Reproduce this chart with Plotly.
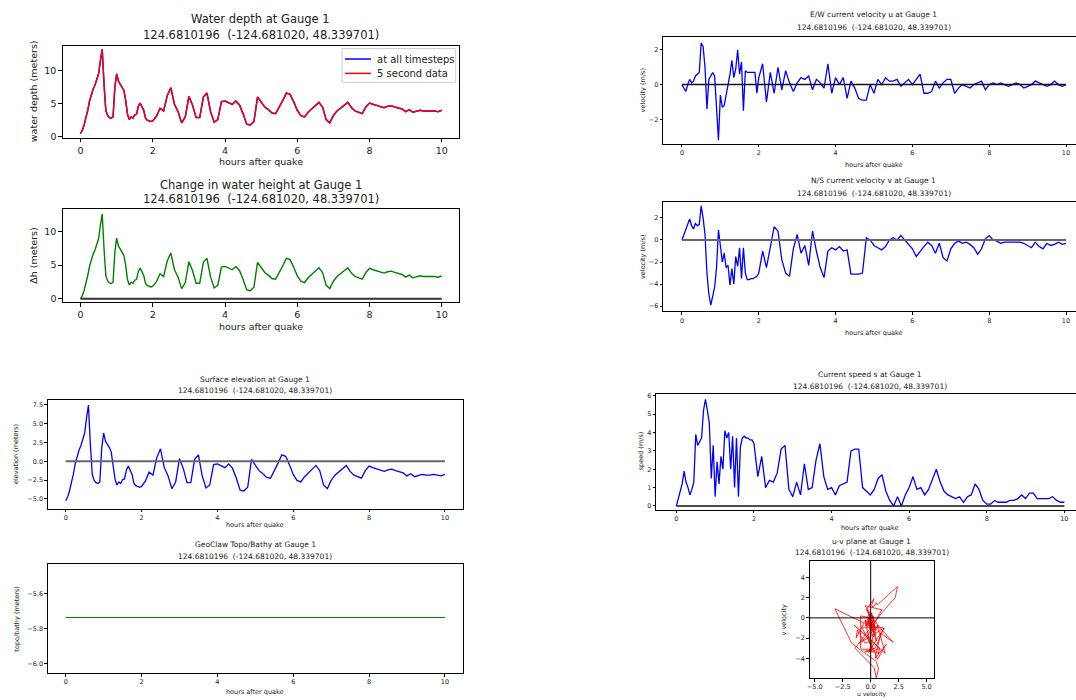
import plotly.graph_objects as go

W, H = 1076, 700

# ---------------- data ----------------
# time grid: 0.05 h steps up to 2 h, then 0.1 h steps up to 10 h
hours = [round(0.05 * i, 2) for i in range(41)] + [round(2 + 0.1 * i, 1) for i in range(1, 81)]

water_depth = [
    0.5, 1.0, 1.8, 2.8, 4.0, 5.4, 6.5, 7.2, 7.8, 8.6, 9.5, 11.5, 13.2, 8.0, 4.0, 3.2, 2.9, 2.8, 3.0, 7.5,
    9.5, 8.4, 8.0, 7.6, 7.0, 5.5, 3.4, 2.6, 3.0, 2.8, 3.3, 3.4, 4.6, 5.1, 4.6, 4.0, 2.8, 2.5, 2.4, 2.3, 2.4,
    3.1, 4.3, 3.9, 6.2, 7.4, 4.9, 3.8, 2.1, 3.0, 6.1,
    4.8, 2.9, 2.9, 6.0, 6.6, 3.8, 2.2, 2.6, 5.3, 5.4,
    5.1, 4.9, 5.4, 4.8, 3.5, 1.9, 1.8, 2.3, 6.0, 5.2,
    4.5, 4.1, 3.6, 3.5, 4.4, 5.5, 6.6, 6.4, 5.3, 4.0,
    3.2, 3.0, 3.7, 4.2, 4.6, 5.2, 4.5, 2.6, 2.1, 3.2,
    3.9, 4.3, 4.8, 5.2, 4.4, 3.9, 3.7, 3.5, 4.5, 5.1,
    4.9, 4.7, 4.5, 4.4, 4.6, 4.7, 4.5, 4.4, 4.2, 3.8,
    4.1, 3.7, 3.8, 4.0, 3.9, 3.9, 4.0, 3.9, 3.8, 4.0,
]

delta_h = [
    0.0, 0.45, 1.25, 2.25, 3.45, 4.85, 5.95, 6.65, 7.25, 8.05, 8.95, 10.95, 12.6, 7.45, 3.45, 2.65, 2.35, 2.25,
    2.45, 6.95, 9.0, 7.85, 7.45, 7.05, 6.45, 4.95, 2.85, 2.05, 2.45, 2.25, 2.75, 2.85, 4.05, 4.55, 4.05, 3.45,
    2.25, 1.95, 1.85, 1.75, 1.85,
    2.5, 3.7, 3.3, 5.6, 6.8, 4.3, 3.2, 1.5, 2.4, 5.5,
    4.2, 2.3, 2.3, 5.4, 6.0, 3.2, 1.6, 2.0, 4.7, 4.8,
    4.5, 4.3, 4.8, 4.2, 2.9, 1.3, 1.2, 1.7, 5.4, 4.6,
    3.9, 3.5, 3.0, 2.9, 3.8, 4.9, 6.0, 5.8, 4.7, 3.4,
    2.6, 2.4, 3.1, 3.6, 4.0, 4.6, 3.9, 2.0, 1.5, 2.6,
    3.3, 3.7, 4.2, 4.6, 3.8, 3.3, 3.1, 2.9, 3.9, 4.5,
    4.3, 4.1, 3.9, 3.8, 4.0, 4.1, 3.9, 3.8, 3.6, 3.2,
    3.5, 3.1, 3.2, 3.4, 3.3, 3.3, 3.4, 3.3, 3.2, 3.4,
]

surface_eta = [
    -5.24, -4.74, -3.94, -2.94, -1.74, -0.34, 0.76, 1.46, 2.06, 2.86, 3.76, 5.76, 7.46, 2.26, -1.74, -2.54,
    -2.84, -2.94, -2.74, 1.76, 3.76, 2.66, 2.26, 1.86, 1.26, -0.24, -2.34, -3.14, -2.74, -2.94, -2.44, -2.34,
    -1.14, -0.64, -1.14, -1.74, -2.94, -3.24, -3.34, -3.44, -3.34,
    -2.64, -1.44, -1.84, 0.46, 1.66, -0.84, -1.94, -3.64, -2.74, 0.36,
    -0.94, -2.84, -2.84, 0.26, 0.86, -1.94, -3.54, -3.14, -0.44, -0.34,
    -0.64, -0.84, -0.34, -0.94, -2.24, -3.84, -3.94, -3.44, 0.26, -0.54,
    -1.24, -1.64, -2.14, -2.24, -1.34, -0.24, 0.86, 0.66, -0.44, -1.74,
    -2.54, -2.74, -2.04, -1.54, -1.14, -0.54, -1.24, -3.14, -3.64, -2.54,
    -1.84, -1.44, -0.94, -0.54, -1.34, -1.84, -2.04, -2.24, -1.24, -0.64,
    -0.84, -1.04, -1.24, -1.34, -1.14, -1.04, -1.24, -1.34, -1.54, -1.94,
    -1.64, -2.04, -1.94, -1.74, -1.84, -1.84, -1.74, -1.84, -1.94, -1.74,
]

topo_bathy_level = -5.737

u_velocity = [
    0.0, -0.2, -0.4, 0.0, 0.3, 0.1, 0.2, 0.5, 0.6, 0.7, 2.4, 2.2, 1.0, -1.4, 0.3, 0.5, 0.7, 0.5, -1.7, -3.2,
    -0.6, -1.3, -1.2, -0.5, 0.0, 0.6, 1.4, 0.4, 0.9, 2.0, 0.6, 1.3, -1.5, 0.8, 0.7, 0.7, 0.7, 0.7, 0.7, -0.5, 0.4,
    1.2, -1.0, 0.7, -0.5, 1.0, -0.3, 0.8, 0.1, -0.4, 0.1,
    0.4, 0.3, 0.5, -0.3, 0.3, 0.1, -0.2, 1.2, -0.5, 0.4,
    0.0, 0.4, -0.8, 0.2, -0.2, -0.8, -0.9, -0.9, 0.0, -0.5,
    0.3, 0.0, 0.4, 0.2, 0.2, 0.3, -0.1, 0.1, 0.3, 0.0,
    0.3, 0.6, -0.5, -0.5, -0.4, 0.2, -0.2, 0.1, 0.3, 0.3,
    -0.5, -0.2, 0.0, -0.1, -0.2, 0.0, 0.1, 0.2, -0.3, 0.0,
    0.1, 0.0, 0.1, 0.0, -0.1, 0.0, 0.1, 0.0, -0.2, -0.1,
    0.0, 0.2, 0.1, 0.0, -0.1, 0.0, 0.2, 0.0, -0.1, 0.0,
]

v_velocity = [
    0.0, 0.5, 0.8, 1.4, 1.9, 1.3, 1.0, 1.5, 1.3, 1.4, 3.1, 2.0, 0.5, -3.0, -4.9, -5.9, -5.0, -4.3, -2.5, 0.9,
    -0.5, -2.0, -1.2, -2.5, -2.3, -4.1, -2.6, -4.0, -1.5, -2.4, -0.7, -3.5, -0.7, -3.0, -3.6, -3.6, -3.5, -3.5,
    -3.4, -3.3, -3.0,
    -1.0, -2.5, -0.8, 1.2, 0.8, -1.8, -3.0, -3.3, -0.8, 0.5,
    -1.2, -0.5, -2.3, 0.8, -1.0, -2.5, -3.4, -1.0, -0.7, -0.9,
    -0.6, -1.0, -0.9, -3.1, -3.1, -3.1, -3.0, 0.2, 0.0, -0.5,
    -0.7, -0.9, -0.6, 0.0, 0.2, 0.0, 0.4, 0.0, -0.3, -0.8,
    -1.5, -1.0, -0.6, -0.2, -0.5, -1.2, -0.3, -1.6, -1.9, -0.8,
    -0.3, -0.1, -0.3, -0.2, -0.4, -0.7, -1.3, -0.8, 0.1, 0.4,
    0.0, -0.1, -0.3, -0.2, -0.2, -0.2, -0.2, -0.2, -0.3, -0.5,
    -0.7, -0.2, -0.6, -0.8, -0.3, -0.5, -0.4, -0.2, -0.4, -0.3,
]

current_speed = [
    0.0, 0.4, 0.7, 1.2, 1.9, 1.3, 1.0, 0.6, 0.9, 1.3, 3.9, 3.3, 3.5, 3.7, 5.2, 5.8, 5.2, 4.5, 1.5, 3.3,
    0.5, 2.4, 1.2, 2.7, 2.0, 4.1, 3.7, 4.0, 2.0, 3.8, 1.0, 3.7, 0.5, 3.2, 3.7, 3.8, 3.7, 3.7, 3.6, 3.6, 3.4,
    1.6, 2.7, 1.0, 1.4, 1.3, 1.8, 3.1, 3.3, 0.9, 0.5,
    1.3, 0.6, 2.3, 0.9, 1.0, 2.5, 3.4, 1.6, 0.9, 1.0,
    0.6, 1.1, 1.2, 1.3, 3.0, 3.1, 3.1, 1.0, 0.8, 0.6,
    0.9, 1.5, 1.7, 0.8, 0.3, 0.0, 0.5, 0.0, 0.6, 1.0,
    1.6, 0.9, 1.0, 0.6, 0.9, 1.5, 2.0, 1.3, 0.8, 0.6,
    0.5, 0.4, 0.5, 0.2, 0.5, 0.6, 1.2, 0.9, 0.3, 0.1,
    0.1, 0.3, 0.2, 0.2, 0.2, 0.3, 0.3, 0.4, 0.6, 0.4,
    0.7, 0.7, 0.4, 0.4, 0.4, 0.4, 0.5, 0.3, 0.2, 0.2,
]

gauge_coords = "124.6810196\u00a0 (-124.681020, 48.339701)"
legend_labels = ["at all timesteps", "5 second data"]
legend_colors = ["#0000ff", "#ff0000"]

# ---------------- layout helpers ----------------
FONT = "DejaVu Sans"
TXT = "#222222"


def fx(p):
    return p / W


def fy(p):
    return 1 - p / H


# panel pixel boxes (left, right, top, bottom), axis ranges, ticks
panels = {
    1: dict(box=(60, 457, 44, 137), xr=[-0.49, 10.47], yr=[-0.15, 13.75], ydt=5, yfmt=None, big=True, right=True),
    2: dict(box=(60, 457, 209, 303), xr=[-0.49, 10.47], yr=[-0.55, 13.3], ydt=5, yfmt=None, big=True, right=True),
    3: dict(box=(45, 461, 401, 511), xr=[-0.47, 10.47], yr=[-6.28, 8.2], ydt=2.5, yfmt=".1f", big=False, right=True),
    4: dict(box=(45, 461, 567, 677), xr=[-0.47, 10.47], yr=[-6.057, -5.43], ydt=0.2, yfmt=".1f", big=False, right=True),
    5: dict(box=(662, 1076, 35, 143), xr=[-0.49, 10.26], yr=[-3.41, 2.76], ydt=2, yfmt=None, big=False, right=False),
    6: dict(box=(662, 1076, 202, 312), xr=[-0.49, 10.26], yr=[-6.47, 3.42], ydt=2, yfmt=None, big=False, right=False),
    7: dict(box=(655, 1076, 395, 512), xr=[-0.52, 10.3], yr=[-0.2, 6.12], ydt=1, yfmt=None, big=False, right=False),
    8: dict(box=(809, 934, 564, 682), xr=[-5.45, 5.7], yr=[-5.95, 5.6], ydt=2, yfmt=None, big=False, right=True),
}

fig = go.Figure()
layout = dict(
    width=W, height=H, autosize=False,
    margin=dict(l=0, r=0, t=0, b=0),
    paper_bgcolor="white", plot_bgcolor="white",
    font=dict(family=FONT, color=TXT),
    showlegend=False,
)

for n, p in panels.items():
    l, r, t, b = p["box"]
    xs = "" if n == 1 else str(n)
    tick_size = 9.5 if p["big"] else 6.5
    tlen = 3.5 if p["big"] else 2.5
    common = dict(
        showgrid=False, zeroline=False, showline=True, linecolor="black", linewidth=1,
        ticks="outside", ticklen=tlen, tickwidth=0.8, tickcolor="black",
        tickfont=dict(family=FONT, size=tick_size, color=TXT),
    )
    xa = dict(common, domain=[fx(l), fx(r)], anchor="y" + xs, range=p["xr"], mirror=True)
    ya = dict(common, domain=[fy(b), fy(t)], anchor="x" + xs, range=p["yr"], dtick=p["ydt"],
              mirror=p["right"])
    if n == 8:
        xa.update(dtick=2.5, tickformat=".1f", tick0=0)
        ya.update(tick0=0)
    else:
        xa.update(dtick=2, tick0=0)
    if n == 4:
        ya.update(tick0=-6.0)
    if p["yfmt"]:
        ya.update(tickformat=p["yfmt"])
    layout["xaxis" + xs] = xa
    layout["yaxis" + xs] = ya


def ax(n):
    s = "" if n == 1 else str(n)
    return dict(xaxis="x" + s, yaxis="y" + s)


span = [hours[0], hours[-1]]

# Panel 1: water depth
fig.add_trace(go.Scatter(x=hours, y=water_depth, mode="lines", name=legend_labels[0],
                         line=dict(color=legend_colors[0], width=1.5), **ax(1)))
fig.add_trace(go.Scatter(x=hours, y=water_depth, mode="lines", name=legend_labels[1],
                         line=dict(color=legend_colors[1], width=1.4), **ax(1)))
# Panel 2: change in water height
fig.add_trace(go.Scatter(x=hours, y=delta_h, mode="lines",
                         line=dict(color="#008000", width=1.4), **ax(2)))
fig.add_trace(go.Scatter(x=span, y=[0, 0], mode="lines",
                         line=dict(color="#333333", width=2), **ax(2)))
# Panel 3: surface elevation
fig.add_trace(go.Scatter(x=hours, y=surface_eta, mode="lines",
                         line=dict(color="#0000ff", width=1.3), **ax(3)))
fig.add_trace(go.Scatter(x=span, y=[0, 0], mode="lines",
                         line=dict(color="#666666", width=2), **ax(3)))
# Panel 4: topo / bathy
fig.add_trace(go.Scatter(x=span, y=[topo_bathy_level, topo_bathy_level], mode="lines",
                         line=dict(color="#008000", width=1), **ax(4)))
# Panel 5: u
fig.add_trace(go.Scatter(x=hours, y=u_velocity, mode="lines",
                         line=dict(color="#0000ff", width=1.3), **ax(5)))
fig.add_trace(go.Scatter(x=span, y=[0, 0], mode="lines",
                         line=dict(color="#111111", width=1.5), **ax(5)))
# Panel 6: v
fig.add_trace(go.Scatter(x=hours, y=v_velocity, mode="lines",
                         line=dict(color="#0000ff", width=1.3), **ax(6)))
fig.add_trace(go.Scatter(x=span, y=[0, 0], mode="lines",
                         line=dict(color="#666666", width=2), **ax(6)))
# Panel 7: speed
fig.add_trace(go.Scatter(x=hours, y=current_speed, mode="lines",
                         line=dict(color="#0000ff", width=1.3), **ax(7)))
fig.add_trace(go.Scatter(x=span, y=[0, 0], mode="lines",
                         line=dict(color="#111111", width=1.5), **ax(7)))
# Panel 8: u-v plane
fig.add_trace(go.Scatter(x=u_velocity, y=v_velocity, mode="lines",
                         line=dict(color="#ff0000", width=0.8), **ax(8)))

shapes = [
    dict(type="line", xref="x8", yref="y8 domain", x0=0, x1=0, y0=0, y1=1,
         line=dict(color="black", width=1)),
    dict(type="line", xref="x8 domain", yref="y8", x0=0, x1=1, y0=0, y1=0,
         line=dict(color="black", width=1)),
    # legend frame (panel 1)
    dict(type="rect", xref="paper", yref="paper", x0=fx(340), x1=fx(454), y0=fy(81), y1=fy(47),
         line=dict(color="#cccccc", width=1), fillcolor="rgba(255,255,255,0.85)", layer="above"),
]
legend_rows = [57.5, 72]
for lbl_y, col in zip(legend_rows, legend_colors):
    shapes.append(dict(type="line", xref="paper", yref="paper", x0=fx(343), x1=fx(369),
                       y0=fy(lbl_y), y1=fy(lbl_y), line=dict(color=col, width=1.5), layer="above"))
layout["shapes"] = shapes

# titles and axis labels as text
texts = [
    (258.5, 17, "Water depth at Gauge 1", 11.5, 0),
    (258.5, 33, gauge_coords, 11.5, 0),
    (258.5, 161, "hours after quake", 9.5, 0),
    (30, 90, "water depth (meters)", 9.5, -90),

    (258.5, 185, "Change in water height at Gauge 1", 11.5, 0),
    (258.5, 199, gauge_coords, 11.5, 0),
    (258.5, 327, "hours after quake", 9.5, 0),
    (31, 256, "\u0394h (meters)", 9.5, -90),

    (253, 381, "Surface elevation at Gauge 1", 7.5, 0),
    (253, 392, gauge_coords, 7.5, 0),
    (253, 528, "hours after quake", 6.5, 0),
    (13, 456, "elevation (meters)", 6.5, -90),

    (253, 547, "GeoClaw Topo/Bathy at Gauge 1", 7.5, 0),
    (253, 559, gauge_coords, 7.5, 0),
    (253, 696, "hours after quake", 6.5, 0),
    (14, 622, "topo/bathy (meters)", 6.5, -90),

    (873, 13, "E/W current velocity u at Gauge 1", 7.5, 0),
    (873, 26, gauge_coords, 7.5, 0),
    (873, 164, "hours after quake", 6.5, 0),
    (642, 89, "velocity (m/s)", 6.5, -90),

    (873, 180, "N/S current velocity v at Gauge 1", 7.5, 0),
    (873, 193, gauge_coords, 7.5, 0),
    (873, 334, "hours after quake", 6.5, 0),
    (642, 257, "velocity (m/s)", 6.5, -90),

    (869, 376, "Current speed s at Gauge 1", 7.5, 0),
    (869, 388, gauge_coords, 7.5, 0),
    (869, 531, "hours after quake", 6.5, 0),
    (640, 453, "speed (m/s)", 6.5, -90),

    (871, 544, "u-v plane at Gauge 1", 7.5, 0),
    (871, 555, gauge_coords, 7.5, 0),
    (871, 698, "u velocity", 6, 0),
    (783, 623, "v velocity", 6.5, -90),
]
annotations = [
    dict(x=fx(x), y=fy(y), xref="paper", yref="paper", text=s, showarrow=False,
         xanchor="center", yanchor="middle", textangle=a,
         font=dict(family=FONT, size=sz, color=TXT))
    for (x, y, s, sz, a) in texts
]
for lbl, lbl_y in zip(legend_labels, legend_rows):
    annotations.append(dict(x=fx(373), y=fy(lbl_y), xref="paper", yref="paper", text=lbl,
                            showarrow=False, xanchor="left", yanchor="middle",
                            font=dict(family=FONT, size=10, color=TXT)))
layout["annotations"] = annotations

fig.update_layout(**layout)
fig.write_html("out.html")
